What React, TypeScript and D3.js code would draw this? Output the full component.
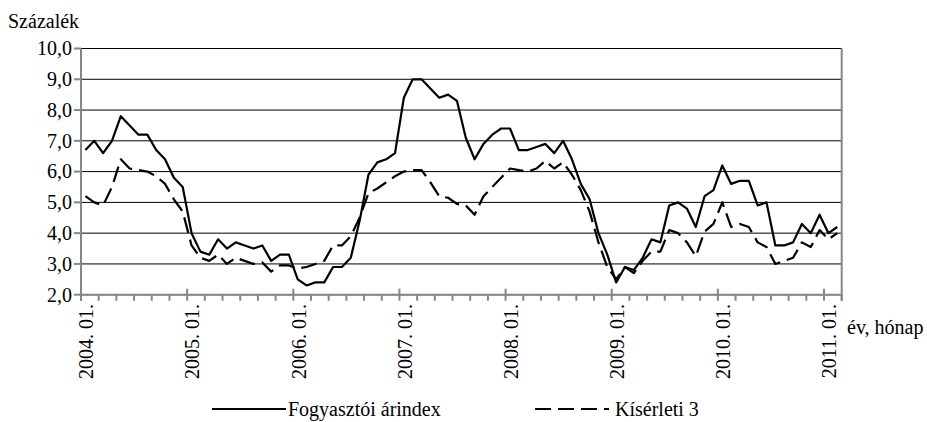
import React from 'react';
import * as d3 from 'd3';

// Hónapok: 2004. 01. – 2011. 02.
const years = [2004, 2005, 2006, 2007, 2008, 2009, 2010, 2011];
const monthNames = ['01', '02', '03', '04', '05', '06', '07', '08', '09', '10', '11', '12'];
const categories = years.flatMap(y => monthNames.map(m => `${y}. ${m}.`)).slice(0, 86);

const yearLabels = ['2004. 01.', '2005. 01.', '2006. 01.', '2007. 01.', '2008. 01.', '2009. 01.', '2010. 01.', '2011. 01.'];
const yTicks = [2, 3, 4, 5, 6, 7, 8, 9, 10];

// Fogyasztói árindex
const cpi = [
  6.7, 7.0, 6.6, 7.0, 7.8, 7.5, 7.2, 7.2, 6.7, 6.4, 5.8, 5.5,
  4.0, 3.4, 3.3, 3.8, 3.5, 3.7, 3.6, 3.5, 3.6, 3.1, 3.3, 3.3,
  2.5, 2.3, 2.4, 2.4, 2.9, 2.9, 3.2, 4.4, 5.9, 6.3, 6.4, 6.6,
  8.4, 9.0, 9.0, 8.7, 8.4, 8.5, 8.3, 7.1, 6.4, 6.9, 7.2, 7.4,
  7.4, 6.7, 6.7, 6.8, 6.9, 6.6, 7.0, 6.4, 5.6, 5.1, 4.0, 3.3,
  2.4, 2.9, 2.8, 3.2, 3.8, 3.7, 4.9, 5.0, 4.8, 4.2, 5.2, 5.4,
  6.2, 5.6, 5.7, 5.7, 4.9, 5.0, 3.6, 3.6, 3.7, 4.3, 4.0, 4.6,
  4.0, 4.2,
];

// Kísérleti 3
const kiserleti3 = [
  5.2, 5.0, 4.9, 5.5, 6.4, 6.1, 6.05, 6.0, 5.85, 5.6, 5.1, 4.7,
  3.6, 3.2, 3.1, 3.3, 3.0, 3.2, 3.1, 3.0, 3.05, 2.75, 2.95, 2.95,
  2.85, 2.9, 3.0, 3.1, 3.6, 3.6, 3.9, 4.5, 5.3, 5.45, 5.65, 5.85,
  6.0, 6.05, 6.05, 5.65, 5.2, 5.15, 4.95, 4.9, 4.6, 5.2, 5.5, 5.8,
  6.1, 6.05, 6.0, 6.1, 6.35, 6.1, 6.3, 5.9, 5.4, 4.7, 3.7, 2.9,
  2.5, 2.9, 2.7, 3.1, 3.4, 3.4, 4.1, 4.0, 3.7, 3.25, 4.05, 4.3,
  5.0, 4.2, 4.3, 4.2, 3.7, 3.55, 3.0, 3.1, 3.2, 3.7, 3.55, 4.1,
  3.8, 4.0,
];

const W = 927;
const H = 422;
const margin = { top: 48.5, right: 85.3, bottom: 127.3, left: 81 };
const FONT = "Liberation Serif, DejaVu Serif";
const AXIS = '#868686';

const App = () => {
  const x = d3.scaleBand<string>()
    .domain(categories)
    .range([margin.left, W - margin.right])
    .padding(0);
  const bw = x.bandwidth();
  const y = d3.scaleLinear().domain([2, 10]).range([H - margin.bottom, margin.top]);
  const fmt = (v: number) => d3.format('.1f')(v).replace('.', ',');

  const line = d3.line<number>()
    .x((_, i) => (x(categories[i]) as number) + bw / 2)
    .y(d => y(d));

  const x0 = margin.left;
  const x1 = W - margin.right;
  const yBase = y(2);

  // tick boundaries every second month
  const boundaries = d3.range(0, categories.length + 1, 2);
  const bx = (k: number) => x0 + k * bw;

  return (
    <svg width={W} height={H}
      style={{ position: 'absolute', left: 0, top: 0, background: '#fff' }}>
      <g style={{ fontFamily: FONT }}>
        <text x={8} y={28} fontSize={20}>Százalék</text>

        {/* gridlines */}
        {yTicks.map(t => (
          <line key={t} x1={x0} x2={x1} y1={y(t)} y2={y(t)} stroke="#000" strokeWidth={1} />
        ))}

        {/* y axis */}
        <line x1={x0} x2={x0} y1={margin.top} y2={yBase + 6} stroke={AXIS} strokeWidth={2} />
        <line x1={x1} x2={x1} y1={margin.top} y2={yBase + 6} stroke={AXIS} strokeWidth={2} />
        {yTicks.map(t => (
          <g key={t}>
            <line x1={x0 - 7} x2={x0} y1={y(t)} y2={y(t)} stroke={AXIS} strokeWidth={2} />
            <text x={x0 - 9} y={y(t)} dy="0.34em" textAnchor="end" fontSize={20}>{fmt(t)}</text>
          </g>
        ))}

        {/* x axis */}
        <line x1={x0} x2={x1} y1={yBase} y2={yBase} stroke={AXIS} strokeWidth={2} />
        {boundaries.map(k => {
          const major = k % 12 === 0;
          return (
            <line key={k} x1={bx(k)} x2={bx(k)} y1={major ? yBase - 6 : yBase} y2={yBase + 6}
              stroke={AXIS} strokeWidth={2} />
          );
        })}
        {yearLabels.map((lab, j) => {
          const cx = (x(categories[j * 12]) as number) + bw / 2 + 1;
          return (
            <text key={lab} transform={`translate(${cx},304) rotate(-90)`} textAnchor="end"
              dy="0.34em" fontSize={20}>{lab}</text>
          );
        })}
        <text x={847} y={334} fontSize={20}>év, hónap</text>

        {/* series */}
        <path d={line(kiserleti3) ?? ''} fill="none" stroke="#000" strokeWidth={2.2}
          strokeDasharray="16,7" strokeLinejoin="round" />
        <path d={line(cpi) ?? ''} fill="none" stroke="#000" strokeWidth={2.2} strokeLinejoin="round" />

        {/* legend */}
        <line x1={212} x2={286} y1={409} y2={409} stroke="#000" strokeWidth={2.2} />
        <text x={288} y={416} fontSize={20}>Fogyasztói árindex</text>
        <line x1={535} x2={609} y1={409} y2={409} stroke="#000" strokeWidth={2.2} strokeDasharray="16,7" />
        <text x={615} y={416} fontSize={20}>Kísérleti 3</text>
      </g>
    </svg>
  );
};

export default App;
